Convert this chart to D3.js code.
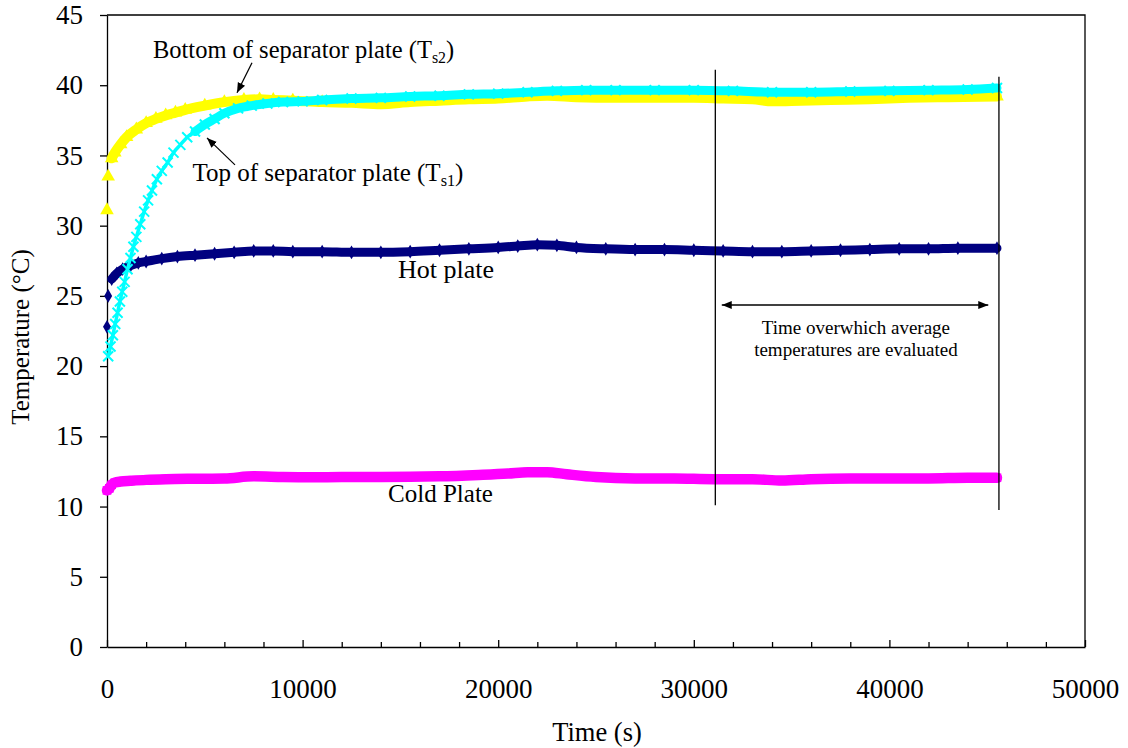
<!DOCTYPE html>
<html>
<head>
<meta charset="utf-8">
<script src="https://cdn.jsdelivr.net/npm/d3@7"></script>
<style>
  html, body { margin: 0; padding: 0; background: #fff; }
  svg { display: block; }
  svg text { font-family: "Liberation Serif", serif; fill: #000; }
</style>
</head>
<body>
<svg id="chart" width="1128" height="748" font-family="Liberation Serif, serif"></svg>
<script>
// Hot plate temperature (°C) against time (s)
const hotTime = [0, 60, 240, 500, 800, 1200, 1600, 2000, 2800, 3600, 4500, 5500, 6500, 7500, 8500, 9500, 11000, 12500, 14000, 15500, 17000, 18500, 20000, 21000, 22000, 23000, 24000, 25500, 27000, 28500, 30000, 31500, 33000, 34500, 36000, 37500, 39000, 40500, 42000, 43500, 45500];
const hotTemp = [22.8, 25.0, 26.2, 26.6, 26.9, 27.15, 27.35, 27.45, 27.65, 27.8, 27.9, 28.0, 28.1, 28.2, 28.2, 28.15, 28.15, 28.1, 28.1, 28.15, 28.25, 28.35, 28.45, 28.55, 28.65, 28.6, 28.45, 28.35, 28.3, 28.3, 28.25, 28.2, 28.15, 28.15, 28.2, 28.25, 28.3, 28.35, 28.35, 28.4, 28.4];

// Cold plate
const coldTime = [0, 120, 240, 400, 700, 1200, 2000, 3000, 4500, 6000, 7500, 9000, 10500, 12000, 14000, 17000, 19000, 20500, 21500, 22500, 23500, 25000, 27000, 29000, 31000, 33000, 34500, 36000, 38000, 40000, 42000, 44000, 45500];
const coldTemp = [11.15, 11.3, 11.55, 11.7, 11.78, 11.83, 11.9, 11.95, 11.98, 12.0, 12.15, 12.1, 12.08, 12.1, 12.1, 12.15, 12.25, 12.35, 12.45, 12.45, 12.3, 12.1, 12.0, 12.0, 11.95, 11.95, 11.85, 11.95, 12.0, 12.0, 12.0, 12.05, 12.05];

// Bottom of separator plate (Ts2)
const ts2Time = [0, 60, 240, 400, 700, 1000, 1500, 2000, 2500, 3000, 3500, 4000, 5000, 6000, 7000, 7800, 8500, 9500, 11000, 12500, 14000, 15500, 17000, 18500, 20000, 21500, 22500, 24000, 26000, 28000, 30000, 31500, 33000, 34000, 35500, 37000, 39000, 41000, 43000, 45500];
const ts2Temp = [31.1, 33.5, 34.8, 35.2, 35.8, 36.3, 36.85, 37.3, 37.6, 37.85, 38.05, 38.25, 38.55, 38.8, 38.95, 39.0, 38.95, 38.9, 38.8, 38.75, 38.65, 38.8, 38.9, 39.0, 39.05, 39.2, 39.25, 39.15, 39.1, 39.1, 39.1, 39.05, 39.0, 38.85, 38.9, 38.95, 39.0, 39.1, 39.15, 39.2];

// Top of separator plate (Ts1)
const ts1Time = [60, 180, 300, 420, 540, 660, 780, 900, 1050, 1200, 1350, 1500, 1700, 1900, 2100, 2300, 2550, 2800, 3100, 3400, 3750, 4100, 4500, 5000, 5500, 6000, 6700, 7400, 8200, 9000, 10000, 11000, 12500, 14000, 15500, 17000, 18500, 20000, 21500, 23000, 24500, 26000, 28000, 30000, 32000, 34000, 36000, 38000, 40000, 42000, 44000, 45500];
const ts1Temp = [20.7, 21.4, 22.2, 23.0, 23.8, 24.6, 25.3, 26.0, 26.9, 27.7, 28.5, 29.2, 30.1, 31.0, 31.8, 32.5, 33.3, 33.9, 34.5, 35.2, 35.75, 36.3, 36.7, 37.2, 37.6, 38.0, 38.35, 38.55, 38.7, 38.8, 38.85, 38.95, 39.05, 39.1, 39.2, 39.25, 39.35, 39.4, 39.5, 39.6, 39.65, 39.65, 39.65, 39.65, 39.6, 39.5, 39.5, 39.55, 39.6, 39.65, 39.7, 39.8];

// Axis ticks
const xTicks = [0, 10000, 20000, 30000, 40000, 50000];
const xMinorTicks = [2000, 4000, 6000, 8000, 12000, 14000, 16000, 18000, 22000, 24000, 26000, 28000, 32000, 34000, 36000, 38000, 42000, 44000, 46000, 48000];
const yTicks = [0, 5, 10, 15, 20, 25, 30, 35, 40, 45];

// Averaging window (s) and its marker lines (°C extents)
const windowStart = 31100, windowEnd = 45600;
const windowLineTop = [41.1, 40.6], windowLineBottom = [10.1, 9.75];

const FONT = "Liberation Serif, serif";
const svg = d3.select("#chart");
const x = d3.scaleLinear().domain([0, 50000]).range([107, 1085]);
const y = d3.scaleLinear().domain([0, 45]).range([647, 15]);

// Plot frame (top and right edges)
svg.append("path")
  .attr("d", `M${x(0)},${y(45)}H${x(50000)}V${y(0)}`)
  .attr("fill", "none").attr("stroke", "#000").attr("stroke-width", 1.3);

// Y axis, ticks outward
const yAxis = svg.append("g").attr("transform", `translate(${x(0)},0)`)
  .call(d3.axisLeft(y).tickValues(yTicks).tickSize(7).tickSizeOuter(0).tickPadding(17).tickFormat(d3.format("d")));
yAxis.attr("font-family", FONT).selectAll("text").attr("font-size", 27);

// X axis, ticks inward
const xAxis = svg.append("g").attr("transform", `translate(0,${y(0)})`)
  .call(d3.axisBottom(x).tickValues(xTicks).tickSize(-7).tickSizeOuter(0).tickPadding(32).tickFormat(d3.format("d")));
xAxis.attr("font-family", FONT).selectAll("text").attr("font-size", 27);
svg.append("g").attr("transform", `translate(0,${y(0)})`)
  .call(d3.axisBottom(x).tickValues(xMinorTicks).tickSize(-5).tickSizeOuter(0).tickFormat(""))
  .select(".domain").remove();
svg.selectAll(".domain, .tick line").attr("stroke", "#000").attr("stroke-width", 1.3);

// Axis titles
svg.append("text").attr("x", 597).attr("y", 741).attr("text-anchor", "middle")
  .attr("font-family", FONT).attr("font-size", 26.5).text("Time (s)");
svg.append("text").attr("transform", "translate(29,337) rotate(-90)").attr("text-anchor", "middle")
  .attr("font-family", FONT).attr("font-size", 25).text("Temperature (°C)");

// Series drawing helpers
function zip(ts, vs) { return ts.map((t, i) => ({ t, v: vs[i] })); }
const line = d3.line().x(d => x(d.t)).y(d => y(d.v)).curve(d3.curveMonotoneX);

function band(data, color, width) {
  svg.append("path").datum(data).attr("d", line)
    .attr("fill", "none").attr("stroke", color).attr("stroke-width", width)
    .attr("stroke-linejoin", "round").attr("stroke-linecap", "round");
}
function symbols(data, type, size, color) {
  svg.append("g").selectAll("path").data(data).join("path")
    .attr("transform", d => `translate(${x(d.t)},${y(d.v)})`)
    .attr("d", d3.symbol().type(type).size(size))
    .attr("fill", color);
}

// Hot plate: navy diamonds
const hot = zip(hotTime, hotTemp);
band(hot.slice(2), "#000080", 9);
symbols(hot, d3.symbolDiamond, 55, "#000080");

// Cold plate: magenta squares
const cold = zip(coldTime, coldTemp);
band(cold, "#FF00FF", 10.5);
symbols(cold, d3.symbolSquare, 75, "#FF00FF");

// Bottom of separator plate: yellow triangles
const ts2 = zip(ts2Time, ts2Temp);
band(ts2.slice(2), "#FFFF00", 10);
symbols(ts2, d3.symbolTriangle, 80, "#FFFF00");

// Top of separator plate: cyan crosses
const ts1 = zip(ts1Time, ts1Temp);
band(ts1.slice(22), "#00FFFF", 9);
svg.append("path").datum(ts1).attr("d", line)
  .attr("fill", "none").attr("stroke", "#00FFFF").attr("stroke-width", 3.5);
svg.append("g").selectAll("path").data(ts1).join("path")
  .attr("transform", d => `translate(${x(d.t)},${y(d.v)})`)
  .attr("d", "M-5,-5L5,5M-5,5L5,-5")
  .attr("stroke", "#00FFFF").attr("stroke-width", 2).attr("fill", "none");

// Averaging window
[windowStart, windowEnd].forEach((t, i) => {
  svg.append("line")
    .attr("x1", x(t)).attr("x2", x(t))
    .attr("y1", y(windowLineTop[i])).attr("y2", y(windowLineBottom[i]))
    .attr("stroke", "#000").attr("stroke-width", 1.3);
});

const defs = svg.append("defs");
defs.append("marker").attr("id", "head").attr("viewBox", "0 0 10 10")
  .attr("refX", 10).attr("refY", 5).attr("markerWidth", 10).attr("markerHeight", 10)
  .attr("markerUnits", "userSpaceOnUse").attr("orient", "auto-start-reverse")
  .append("path").attr("d", "M0,1L10,5L0,9Z").attr("fill", "#000");

svg.append("line")
  .attr("x1", x(31430)).attr("x2", x(45055)).attr("y1", y(24.35)).attr("y2", y(24.35))
  .attr("stroke", "#000").attr("stroke-width", 1.3)
  .attr("marker-start", "url(#head)").attr("marker-end", "url(#head)");

const note = svg.append("text").attr("text-anchor", "middle")
  .attr("font-family", FONT).attr("font-size", 19);
note.append("tspan").attr("x", x(38290)).attr("y", y(22.3)).text("Time overwhich average");
note.append("tspan").attr("x", x(38290)).attr("y", y(20.7)).text("temperatures are evaluated");

// Curve labels with pointer arrows
function subLabel(tx, tv, main, sub, size) {
  const t = svg.append("text").attr("x", x(tx)).attr("y", y(tv))
    .attr("font-family", FONT).attr("font-size", size);
  t.append("tspan").text(main);
  t.append("tspan").attr("font-size", size * 0.65).attr("dy", 5).text(sub);
  t.append("tspan").attr("dy", -5).text(")");
}
subLabel(2350, 41.95, "Bottom of separator plate (T", "s2", 24.5);
subLabel(4370, 33.15, "Top of separator plate (T", "s1", 25);

function pointer(t1, v1, t2, v2) {
  svg.append("line").attr("x1", x(t1)).attr("y1", y(v1)).attr("x2", x(t2)).attr("y2", y(v2))
    .attr("stroke", "#000").attr("stroke-width", 1.2).attr("marker-end", "url(#head)");
}
pointer(7413, 41.6, 6646, 39.46);
pointer(6544, 34.33, 5112, 36.25);

svg.append("text").attr("x", x(14880)).attr("y", y(26.3))
  .attr("font-family", FONT).attr("font-size", 26).text("Hot plate");
svg.append("text").attr("x", x(14370)).attr("y", y(10.3))
  .attr("font-family", FONT).attr("font-size", 25).text("Cold Plate");
</script>
</body>
</html>
